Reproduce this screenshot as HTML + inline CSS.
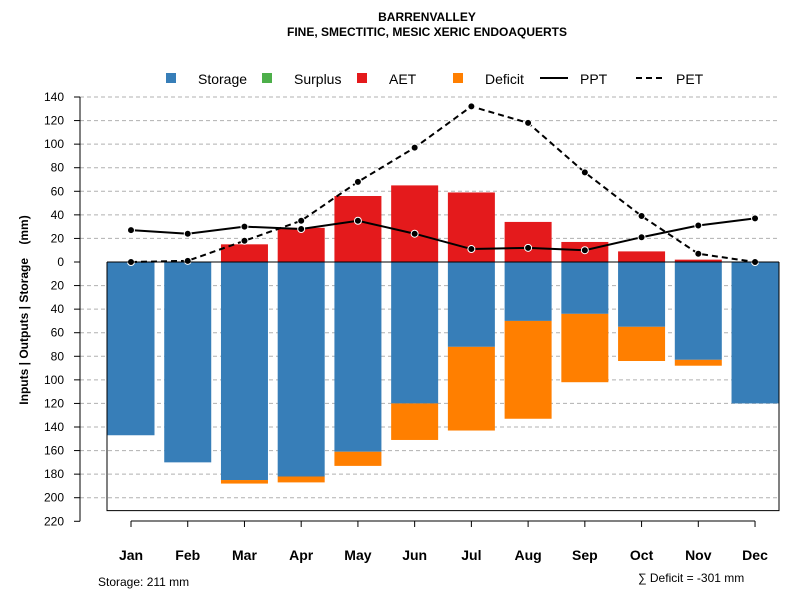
<!DOCTYPE html>
<html><head><meta charset="utf-8"><style>
body{margin:0;background:#fff;font-family:"Liberation Sans",sans-serif}
svg text{font-family:"Liberation Sans",sans-serif}
</style></head><body>
<svg id="c" width="800" height="600" xmlns="http://www.w3.org/2000/svg">
<text x="427" y="21" text-anchor="middle" font-size="12" font-weight="bold">BARRENVALLEY</text>
<text x="427" y="36" text-anchor="middle" font-size="12" font-weight="bold">FINE, SMECTITIC, MESIC XERIC ENDOAQUERTS</text>
<g id="grid"></g><g id="bars"></g><g id="lines"></g><g id="axes"></g>
<g font-size="14">
<rect x="166" y="73" width="10" height="10" fill="#377eb8"/>
<text x="198" y="84">Storage</text>
<rect x="262" y="73" width="10" height="10" fill="#4daf4a"/>
<text x="294" y="84">Surplus</text>
<rect x="357" y="73" width="10" height="10" fill="#e41a1c"/>
<text x="389" y="84">AET</text>
<rect x="453" y="73" width="10" height="10" fill="#ff7f00"/>
<text x="485" y="84">Deficit</text>
<line x1="540" y1="78" x2="568" y2="78" stroke="#000" stroke-width="2"/>
<text x="580" y="84">PPT</text>
<line x1="636" y1="78" x2="664" y2="78" stroke="#000" stroke-width="2" stroke-dasharray="6,4"/>
<text x="676" y="84">PET</text>
</g>
<text transform="translate(28,310) rotate(-90)" text-anchor="middle" font-size="12" font-weight="bold" style="white-space:pre">Inputs | Outputs | Storage    (mm)</text>
<text x="98" y="586" font-size="12">Storage: 211 mm</text>
<text x="638" y="582" font-size="12">∑ Deficit = -301 mm</text>
</svg>
<script>
const months=["Jan","Feb","Mar","Apr","May","Jun","Jul","Aug","Sep","Oct","Nov","Dec"];
const storage=[147,170,185,182,161,120,72,50,44,55,83,120];
const deficit=[0,0,3,5,12,31,71,83,58,29,5,0];
const aet=[0,0,15,29,56,65,59,34,17,9,2,0];
const ppt=[27,24,30,28,35,24,11,12,10,21,31,37];
const pet=[0,1,18,35,68,97,132,118,76,39,7,0];
const yTicks=[140,120,100,80,60,40,20,0,-20,-40,-60,-80,-100,-120,-140,-160,-180,-200,-220];
const maxStorage=211;
const NS="http://www.w3.org/2000/svg";
const y=v=>262-v*(165/140);
const x=i=>131+i*56.73;
const bw=47;
function mk(t,a,p){const e=document.createElementNS(NS,t);for(const k in a)e.setAttribute(k,a[k]);document.getElementById(p).appendChild(e);return e;}
yTicks.forEach(t=>{
  if(t!==0&&t>-220){const g=mk("line",{x1:80,x2:779,y1:y(t),y2:y(t),stroke:"#b0b0b0","stroke-dasharray":"4,3"},"grid");
  
  }
  const tk=mk("line",{x1:74,x2:80,y1:y(t),y2:y(t),stroke:"#000"},"axes");
  
  
  const lb=mk("text",{x:64,y:y(t)+4,"text-anchor":"end","font-size":12},"axes");
  lb.textContent=Math.abs(t);
  
  
});
const ax=mk("line",{x1:80,x2:80,y1:y(140),y2:y(-220),stroke:"#000"},"axes");


months.forEach((m,i)=>{
  const s=mk("rect",{x:x(i)-bw/2,y:y(0),width:bw,height:y(-storage[i])-y(0),fill:"#377eb8"},"bars");
  
  
  if(deficit[i]>0){const d=mk("rect",{x:x(i)-bw/2,y:y(-storage[i]),width:bw,height:y(-storage[i]-deficit[i])-y(-storage[i]),fill:"#ff7f00"},"bars");
  
  }
  if(aet[i]>0){const a=mk("rect",{x:x(i)-bw/2,y:y(aet[i]),width:bw,height:y(0)-y(aet[i]),fill:"#e41a1c"},"bars");
  
  }
  const tk=mk("line",{x1:x(i),x2:x(i),y1:521,y2:527,stroke:"#000"},"axes");
  
  
  const lb=mk("text",{x:x(i),y:560,"text-anchor":"middle","font-size":14,"font-weight":"bold"},"axes");
  lb.textContent=m;
  
  
});
const xa=mk("line",{x1:x(0),x2:x(11),y1:521,y2:521,stroke:"#000"},"axes");


const box=mk("path",{d:`M107,${y(0)} L107,${y(-maxStorage)} L779,${y(-maxStorage)} L779,${y(0)}`,fill:"none",stroke:"#000"},"axes");


const zl=mk("line",{x1:107,x2:779,y1:y(0),y2:y(0),stroke:"#000"},"axes");


[[pet,"6,4","pet"],[ppt,"","ppt"]].forEach(([arr,da,n])=>{
  const l=mk("polyline",{points:arr.map((v,i)=>x(i)+","+y(v)).join(" "),fill:"none",stroke:"#000","stroke-width":2,"stroke-dasharray":da},"lines");
  
  
  arr.forEach((v,i)=>{const p=mk("circle",{cx:x(i),cy:y(v),r:3.5,fill:"#000",stroke:"#fff","stroke-width":1},"lines");
  
  });
});
</script>
</body></html>
